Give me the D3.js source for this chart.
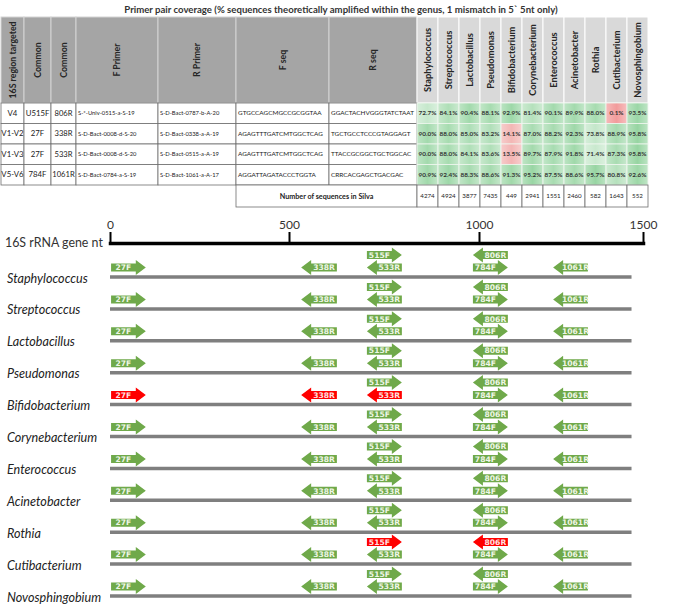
<!DOCTYPE html>
<html><head><meta charset="utf-8">
<script src="https://cdn.jsdelivr.net/npm/d3@7"></script>
<style>body{margin:0;background:#fff} svg{display:block}</style>
</head><body><svg id="c" width="675" height="610"></svg>
<script>
// ---------------- DATA ----------------
const title = "Primer pair coverage (% sequences theoretically amplified within the genus, 1 mismatch in 5` 5nt only)";
const headerCols = ["16S region targeted","Common","Common","F Primer","R Primer","F seq","R seq"];
const genera = ["Staphylococcus","Streptococcus","Lactobacillus","Pseudomonas","Bifidobacterium","Corynebacterium","Enterococcus","Acinetobacter","Rothia","Cutibacterium","Novosphingobium"];
const regions = ["V4","V1-V2","V1-V3","V5-V6"];
const fwdCommon = ["U515F","27F","27F","784F"];
const revCommon = ["806R","338R","533R","1061R"];
const fPrimer = ["S-*-Univ-0515-a-S-19","S-D-Bact-0008-d-S-20","S-D-Bact-0008-d-S-20","S-D-Bact-0784-a-S-19"];
const rPrimer = ["S-D-Bact-0787-b-A-20","S-D-Bact-0338-a-A-19","S-D-Bact-0515-a-A-19","S-D-Bact-1061-a-A-17"];
const fSeq = ["GTGCCAGCMGCCGCGGTAA","AGAGTTTGATCMTGGCTCAG","AGAGTTTGATCMTGGCTCAG","AGGATTAGATACCCTGGTA"];
const rSeq = ["GGACTACHVGGGTATCTAAT","TGCTGCCTCCCGTAGGAGT","TTACCGCGGCTGCTGGCAC","CRRCACGAGCTGACGAC"];
const coverage = [
  [72.7,84.1,90.4,88.1,92.9,81.4,90.1,89.9,88.0,0.1,93.5],
  [90.0,88.0,85.0,83.2,14.1,87.0,88.2,92.3,73.8,88.9,95.8],
  [90.0,88.0,84.1,83.6,13.5,89.7,87.9,91.8,71.4,87.3,95.8],
  [90.9,92.4,88.3,88.6,91.3,95.2,87.5,88.6,95.7,80.8,92.6]
];
const countLabel = "Number of sequences in Silva";
const silvaCounts = [4274,4924,3877,7435,449,2941,1551,2460,582,1643,552];

const axisLabel = "16S rRNA gene nt";
const axisTicks = [0,500,1000,1500];
const geneLength = 1465;
const primerNames = ["27F","338R","515F","533R","806R","784F","1061R"];
const primerStart = [3,532,705,705,984,984,1226];   // drawn extent on the nt axis
const primerEnd   = [100,626,797,797,1088,1088,1332];
const primerDir   = ["F","R","F","R","R","F","R"];
const primerTier  = [0,0,1,0,1,0,0];

// ---------------- DRAW ----------------
const svg = d3.select("#c");
const FONT = "Lato, 'Open Sans', sans-serif";

svg.append("text").attr("x",341).attr("y",13).attr("text-anchor","middle")
  .style("font-family",FONT).style("font-weight","bold").style("font-size","9.6px").attr("fill","#333")
  .text(title);

// table columns
const colX = [1,24,51,76,158,236,329,417];
const gx = d3.scaleBand().domain(genera).range([417,648]);
const hy0 = 17, hy1 = 103;
const ry = d3.scaleBand().domain(regions).range([103,185]);
const cy0 = 185, cy1 = 207;

const tbl = svg.append("g");
headerCols.forEach((h,i)=>{
  tbl.append("rect").attr("x",colX[i]).attr("y",hy0).attr("width",colX[i+1]-colX[i]).attr("height",hy1-hy0)
    .attr("fill","#a5a5a5").attr("stroke","#d4d4d4").attr("stroke-width",1);
  tbl.append("text").attr("transform",`translate(${(colX[i]+colX[i+1])/2},${(hy0+hy1)/2}) rotate(-90)`)
    .attr("text-anchor","middle").attr("dy","0.35em")
    .style("font-family",FONT).style("font-weight","bold").style("font-size","8.8px").attr("fill","#262626")
    .text(h);
});
genera.forEach(g=>{
  tbl.append("rect").attr("x",gx(g)).attr("y",hy0).attr("width",gx.bandwidth()).attr("height",hy1-hy0)
    .attr("fill","#d9d9d9").attr("stroke","#fff").attr("stroke-width",1);
  tbl.append("text").attr("transform",`translate(${gx(g)+gx.bandwidth()/2},${(hy0+hy1)/2}) rotate(-90)`)
    .attr("text-anchor","middle").attr("dy","0.35em")
    .style("font-family",FONT).style("font-weight","bold").style("font-size","9.3px").attr("fill","#262626")
    .text(g);
});

const rowCols = [regions,fwdCommon,revCommon,fPrimer,rPrimer,fSeq,rSeq];
const rowSize = [7.8,7.8,7.6,5.8,5.8,6.4,6.4];
regions.forEach((r,ri)=>{
  const y = ry(r), h = ry.bandwidth();
  rowCols.forEach((arr,ci)=>{
    tbl.append("rect").attr("x",colX[ci]).attr("y",y).attr("width",colX[ci+1]-colX[ci]).attr("height",h)
      .attr("fill","#fff").attr("stroke","#6e6e6e").attr("stroke-width",0.8);
    const left = ci>=3;
    tbl.append("text").attr("x",left? colX[ci]+2 : (colX[ci]+colX[ci+1])/2).attr("y",y+h/2).attr("dy","0.35em")
      .attr("text-anchor",left?"start":"middle")
      .style("font-family",FONT).style("font-size",rowSize[ci]+"px").attr("fill","#222")
      .text(arr[ri]);
  });
});

const covColor = d3.scaleLinear().domain([0,50,100]).range(["#f29c9c","#f4faf4","#8fd29b"]);
const defs = svg.append("defs");
const gr = defs.append("linearGradient").attr("id","shine").attr("x1",0).attr("x2",1).attr("y1",0).attr("y2",0);
gr.append("stop").attr("offset",0).attr("stop-color","#fff").attr("stop-opacity",0.3);
gr.append("stop").attr("offset",0.5).attr("stop-color","#fff").attr("stop-opacity",0);
gr.append("stop").attr("offset",1).attr("stop-color","#fff").attr("stop-opacity",0.35);
regions.forEach((r,ri)=>{
  genera.forEach((g,gi)=>{
    const v = coverage[ri][gi];
    tbl.append("rect").attr("x",gx(g)).attr("y",ry(r)).attr("width",gx.bandwidth()).attr("height",ry.bandwidth())
      .attr("fill",covColor(v)).attr("stroke","#eef6ee").attr("stroke-width",0.8);
    tbl.append("rect").attr("x",gx(g)).attr("y",ry(r)).attr("width",gx.bandwidth()).attr("height",ry.bandwidth())
      .attr("fill","url(#shine)");
    tbl.append("text").attr("x",gx(g)+gx.bandwidth()/2).attr("y",ry(r)+ry.bandwidth()/2).attr("dy","0.35em")
      .attr("text-anchor","middle")
      .style("font-family",FONT).style("font-weight","bold").style("font-size","6.4px").attr("fill","#333")
      .text(v.toFixed(1)+"%");
  });
});

tbl.append("rect").attr("x",colX[5]).attr("y",cy0).attr("width",colX[7]-colX[5]).attr("height",cy1-cy0)
  .attr("fill","#fff").attr("stroke","#6e6e6e").attr("stroke-width",0.8);
tbl.append("text").attr("x",(colX[5]+colX[7])/2).attr("y",(cy0+cy1)/2).attr("dy","0.35em").attr("text-anchor","middle")
  .style("font-family",FONT).style("font-weight","bold").style("font-size","7.2px").attr("fill","#222").text(countLabel);
genera.forEach((g,gi)=>{
  tbl.append("rect").attr("x",gx(g)).attr("y",cy0).attr("width",gx.bandwidth()).attr("height",cy1-cy0)
    .attr("fill","#fff").attr("stroke","#6e6e6e").attr("stroke-width",0.8);
  tbl.append("text").attr("x",gx(g)+gx.bandwidth()/2).attr("y",(cy0+cy1)/2).attr("dy","0.35em").attr("text-anchor","middle")
    .style("font-family",FONT).style("font-size","6.2px").attr("fill","#222").text(silvaCounts[gi]);
});

// ---------------- GENE MAP ----------------
const x = d3.scaleLinear().domain(axisTicks).range([110,289,479,643]);
const axisY = 243;
const ax = svg.append("g").attr("transform",`translate(0,${axisY})`)
  .call(d3.axisTop(x).tickValues(axisTicks).tickSize(11).tickSizeOuter(0).tickPadding(3).tickFormat(d3.format("d")));
ax.select(".domain").attr("stroke","#000").attr("stroke-width",3.5).attr("stroke-linecap","square");
ax.selectAll(".tick line").attr("stroke","#000").attr("stroke-width",2);
ax.selectAll(".tick text").style("font-family",FONT).style("font-size","12px").attr("fill","#333");
svg.append("text").attr("x",5).attr("y",axisY+4).style("font-family",FONT).style("font-size","12.4px").attr("fill","#333").text(axisLabel);

const yG = d3.scalePoint().domain(genera).range([277,596]);
const pairF = fwdCommon.map(s=>s.replace(/^U/,""));
function isFailed(primer, gi){
  return regions.some((r,ri)=> (pairF[ri]===primer || revCommon[ri]===primer) && coverage[ri][gi] < 50);
}
function arrowPath(x0,x1,cy,dir){
  const h=4, H=7.5, L=10;
  if(dir==="F"){
    return `M${x0},${cy-h}L${x1-L},${cy-h}L${x1-L},${cy-H}L${x1},${cy}L${x1-L},${cy+H}L${x1-L},${cy+h}L${x0},${cy+h}Z`;
  }
  return `M${x1},${cy-h}L${x0+L},${cy-h}L${x0+L},${cy-H}L${x0},${cy}L${x0+L},${cy+H}L${x0+L},${cy+h}L${x1},${cy+h}Z`;
}
const map = svg.append("g");
genera.forEach((g,gi)=>{
  const ly = yG(g);
  map.append("line").attr("x1",x(0)).attr("x2",x(geneLength)).attr("y1",ly).attr("y2",ly)
    .attr("stroke","#7f7f7f").attr("stroke-width",3.5);
  map.append("text").attr("x",7).attr("y",ly+5.5)
    .style("font-family",FONT).style("font-style","italic").style("font-size","12.6px").attr("fill","#222").text(g);
  primerNames.forEach((p,pi)=>{
    const x0 = x(primerStart[pi]), x1 = x(primerEnd[pi]);
    const cy = ly - (primerTier[pi] ? 22 : 9.5);
    const fail = isFailed(p,gi);
    map.append("path").attr("d",arrowPath(x0,x1,cy,primerDir[pi]))
      .attr("fill", fail ? "#ff0000" : "#6fa94a");
    const tx = primerDir[pi]==="F" ? (x0 + x1 - 10)/2 : (x0 + 10 + x1)/2;
    map.append("text").attr("x",tx).attr("y",cy).attr("dy","0.36em").attr("text-anchor","middle")
      .style("font-family","'DejaVu Sans', sans-serif").style("font-weight","bold").style("font-size","7.6px")
      .attr("fill", fail ? "#ffe0e0" : "#eef6e6").text(p);
  });
});
</script></body></html>
